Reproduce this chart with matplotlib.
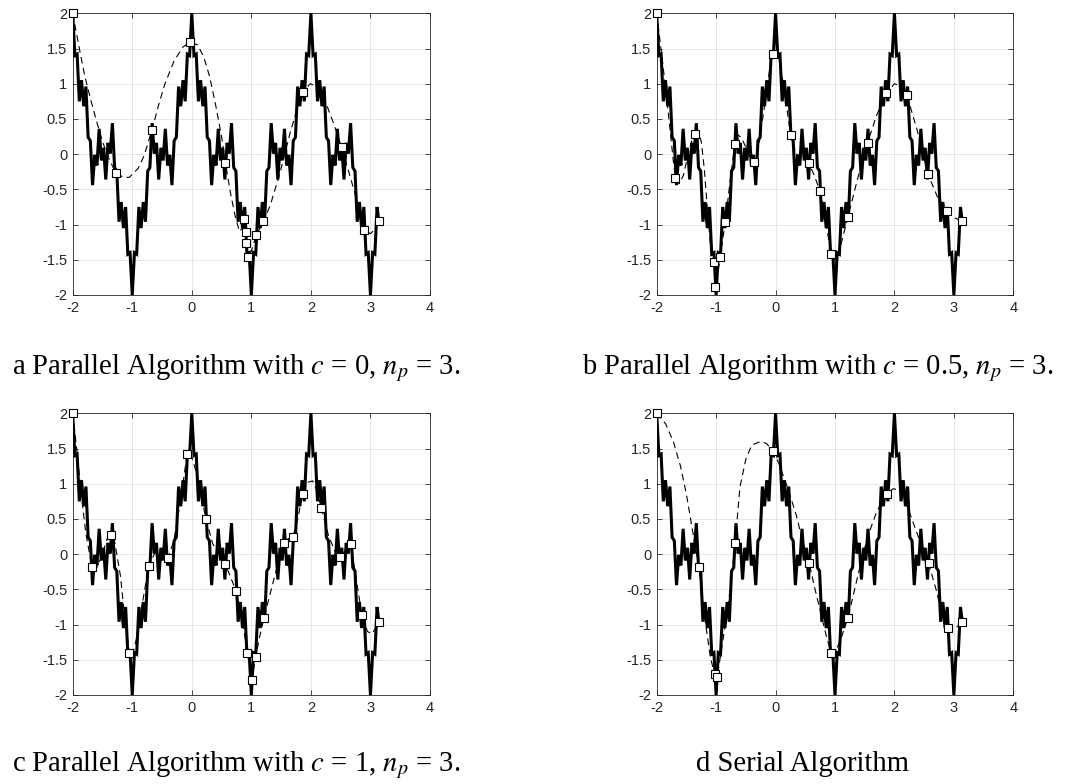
import numpy as np
import matplotlib
matplotlib.use("Agg")
import matplotlib.pyplot as plt

plt.rcParams['mathtext.fontset'] = 'stix'
plt.rcParams['font.family'] = ['Liberation Sans', 'DejaVu Sans']

# ---- fractal reference curve (read on a 1/27 grid over [-2, pi]) ----
curve_y = [
    2.00, 1.40, 1.42, 0.75, 1.05, 0.68, 0.96, 0.24, 0.19, -0.44, -0.01, -0.16, 0.36, -0.09,
    0.09, -0.36, 0.16, 0.01, 0.44, -0.19, -0.24, -0.96, -0.68, -1.05, -0.75, -1.42, -1.40, -2.00,
    -1.40, -1.42, -0.75, -1.05, -0.68, -0.96, -0.24, -0.19, 0.44, 0.01, 0.16, -0.36, 0.09,
    -0.09, 0.36, -0.16, -0.01, -0.44, 0.19, 0.24, 0.96, 0.68, 1.05, 0.75, 1.42, 1.40, 2.00,
    1.40, 1.42, 0.75, 1.05, 0.68, 0.96, 0.24, 0.19, -0.44, -0.01, -0.16, 0.36, -0.09,
    0.09, -0.36, 0.16, 0.01, 0.44, -0.19, -0.24, -0.96, -0.68, -1.05, -0.75, -1.42, -1.40, -2.00,
    -1.40, -1.42, -0.75, -1.05, -0.68, -0.96, -0.24, -0.19, 0.44, 0.01, 0.16, -0.36, 0.09,
    -0.09, 0.36, -0.16, -0.01, -0.44, 0.19, 0.24, 0.96, 0.68, 1.05, 0.75, 1.42, 1.40, 2.00,
    1.40, 1.42, 0.75, 1.05, 0.68, 0.96, 0.24, 0.19, -0.44, -0.01, -0.16, 0.36, -0.09,
    0.09, -0.36, 0.16, 0.01, 0.44, -0.19, -0.24, -0.96, -0.68, -1.05, -0.75, -1.42, -1.40, -2.00,
    -1.40, -1.42, -0.75,
    -0.95,
]
curve_x = np.append(np.linspace(-2.0, 84 / 27, 139), np.pi)

# ---- panel a ----
nodes_a_x = [-2.0, -1.277, -0.667, -0.034, 0.565, 0.884, 0.907, 0.918, 0.951, 1.081, 1.203, 1.859, 2.514, 2.896, 3.137]
nodes_a_y = [2.0, -0.265, 0.349, 1.589, -0.128, -0.918, -1.107, -1.262, -1.466, -1.155, -0.956, 0.879, 0.099, -1.074, -0.956]
dash_a_x = [-2.0, -1.9, -1.8, -1.7, -1.6, -1.5, -1.4, -1.277, -1.15, -1.05, -0.9, -0.8, -0.667, -0.55, -0.45,
            -0.3, -0.15, -0.03, 0.1, 0.2, 0.3, 0.4, 0.5, 0.565, 0.65, 0.72, 0.8, 0.845, 0.884, 0.907, 0.918,
            0.951, 1.0, 1.081, 1.203, 1.32, 1.48, 1.65, 1.76, 1.859, 1.99, 2.1, 2.21, 2.38, 2.514, 2.66,
            2.8, 2.896, 3.0, 3.08, 3.137]
dash_a_y = [2.0, 1.55, 1.12, 0.78, 0.47, 0.18, -0.05, -0.265, -0.33, -0.33, -0.2, -0.02, 0.349, 0.72, 1.0,
            1.32, 1.52, 1.59, 1.55, 1.38, 1.1, 0.7, 0.25, -0.128, -0.55, -0.85, -1.1, -1.05, -0.918, -1.107,
            -1.262, -1.466, -1.38, -1.155, -0.956, -0.72, -0.27, 0.3, 0.62, 0.879, 1.0, 0.96, 0.82, 0.44,
            0.099, -0.32, -0.74, -1.074, -1.13, -1.06, -0.956]

# ---- panel b ----
nodes_b_x = [-2.0, -1.684, -1.358, -1.033, -1.02, -0.932, -0.848, -0.685, -0.365, -0.05, 0.253, 0.56, 0.746,
             0.936, 1.217, 1.549, 1.862, 2.21, 2.559, 2.884, 3.141]
nodes_b_y = [2.0, -0.34, 0.288, -1.53, -1.88, -1.46, -0.97, 0.146, -0.114, 1.423, 0.27, -0.128, -0.52,
             -1.414, -0.894, 0.165, 0.865, 0.837, -0.275, -0.804, -0.956]
dash_b_x = [-2.0, -1.9, -1.8, -1.72, -1.684, -1.62, -1.55, -1.47, -1.4, -1.358, -1.3, -1.25, -1.2, -1.15, -1.1,
            -1.033, -1.02, -0.98, -0.932, -0.848, -0.76, -0.685, -0.63, -0.58, -0.5, -0.43, -0.365, -0.3,
            -0.2, -0.1, -0.05, 0.0, 0.06, 0.15, 0.253, 0.35, 0.45, 0.56, 0.65, 0.746, 0.85, 0.936, 1.0,
            1.08, 1.217, 1.38, 1.549, 1.7, 1.862, 2.0, 2.1, 2.21, 2.38, 2.559, 2.72, 2.884, 3.0, 3.141]
dash_b_y = [2.0, 1.3, 0.55, -0.1, -0.34, -0.42, -0.3, 0.0, 0.22, 0.288, 0.3, 0.18, -0.2, -0.75, -1.25,
            -1.53, -1.88, -1.75, -1.46, -0.97, -0.35, 0.146, 0.27, 0.24, 0.1, -0.05, -0.114, 0.05,
            0.6, 1.2, 1.423, 1.47, 1.35, 0.9, 0.27, 0.0, -0.05, -0.128, -0.3, -0.52, -1.0, -1.414, -1.5,
            -1.35, -0.894, -0.35, 0.165, 0.55, 0.865, 1.0, 0.97, 0.837, 0.35, -0.275, -0.6, -0.804, -0.9, -0.956]

# ---- panel c ----
nodes_c_x = [-2.0, -1.676, -1.356, -1.048, -0.723, -0.398, -0.079, 0.24, 0.56, 0.745, 0.935, 1.008, 1.075,
             1.212, 1.54, 1.697, 1.859, 2.173, 2.492, 2.672, 2.857, 3.137]
nodes_c_y = [2.0, -0.187, 0.271, -1.41, -0.164, -0.06, 1.418, 0.494, -0.136, -0.524, -1.41, -1.78, -1.457,
             -0.907, 0.158, 0.239, 0.858, 0.659, -0.041, 0.143, -0.865, -0.965]
dash_c_x = [-2.0, -1.92, -1.85, -1.78, -1.676, -1.6, -1.5, -1.42, -1.356, -1.3, -1.2, -1.12, -1.048, -1.0,
            -0.93, -0.83, -0.723, -0.6, -0.5, -0.398, -0.3, -0.2, -0.079, -0.02, 0.08, 0.24, 0.35, 0.45,
            0.56, 0.745, 0.85, 0.935, 1.008, 1.075, 1.14, 1.212, 1.38, 1.54, 1.62, 1.697, 1.78, 1.859, 1.95,
            2.03, 2.1, 2.173, 2.3, 2.4, 2.492, 2.58, 2.672, 2.76, 2.857, 2.95, 3.03, 3.137]
dash_c_y = [2.0, 1.4, 0.8, 0.3, -0.187, -0.2, 0.0, 0.22, 0.271, 0.2, -0.3, -0.95, -1.41, -1.45,
            -1.2, -0.7, -0.164, 0.05, 0.05, -0.06, 0.2, 0.7, 1.418, 1.43, 1.15, 0.494, 0.15, 0.0,
            -0.136, -0.524, -0.95, -1.41, -1.78, -1.457, -1.17, -0.907, -0.35, 0.158, 0.22, 0.239, 0.5, 0.858, 1.02,
            1.04, 0.9, 0.659, 0.25, 0.05, -0.041, 0.05, 0.143, -0.35, -0.865, -1.1, -1.13, -0.965]

# ---- panel d ----
nodes_d_x = [-2.0, -1.291, -1.027, -0.983, -0.68, -0.05, 0.566, 0.936, 1.217, 1.869, 2.576, 2.9, 3.136]
nodes_d_y = [2.0, -0.178, -1.703, -1.75, 0.153, 1.464, -0.131, -1.41, -0.908, 0.854, -0.131, -1.05, -0.969]
dash_d_x = [-2.0, -1.85, -1.72, -1.6, -1.5, -1.4, -1.291, -1.2, -1.1, -1.027, -0.983, -0.9, -0.8, -0.68,
            -0.6, -0.5, -0.4, -0.25, -0.15, -0.05, 0.05, 0.2, 0.35, 0.45, 0.566, 0.65, 0.75, 0.85, 0.936,
            1.0, 1.1, 1.217, 1.4, 1.55, 1.7, 1.869, 1.98, 2.1, 2.25, 2.4, 2.576, 2.7, 2.8, 2.9, 3.0, 3.136]
dash_d_y = [2.0, 1.85, 1.6, 1.25, 0.85, 0.35, -0.178, -0.85, -1.45, -1.703, -1.75, -1.3, -0.75, 0.153,
            0.95, 1.35, 1.55, 1.6, 1.57, 1.464, 1.3, 0.95, 0.55, 0.2, -0.131, -0.45, -0.8, -1.15, -1.41,
            -1.4, -1.2, -0.908, -0.25, 0.25, 0.6, 0.854, 0.93, 0.9, 0.6, 0.25, -0.131, -0.5, -0.85, -1.05, -1.07, -0.969]

x_ticks = [-2, -1, 0, 1, 2, 3, 4]
y_ticks = [-2, -1.5, -1, -0.5, 0, 0.5, 1, 1.5, 2]
y_tick_labels = ['-2', '-1.5', '-1', '-0.5', '0', '0.5', '1', '1.5', '2']
x_tick_labels = ['-2', '-1', '0', '1', '2', '3', '4']

captions = [
    r"a Parallel Algorithm with $c$ = 0, $n_p$ = 3.",
    r"b Parallel Algorithm with $c$ = 0.5, $n_p$ = 3.",
    r"c Parallel Algorithm with $c$ = 1, $n_p$ = 3.",
    "d Serial Algorithm",
]

W, H = 1074, 784
fig = plt.figure(figsize=(W / 100, H / 100), dpi=100)

panels = [
    ((72.7, 13.3, 430.0, 295.0), nodes_a_x, nodes_a_y, dash_a_x, dash_a_y, (12, 374)),
    ((656.7, 13.3, 1013.3, 295.0), nodes_b_x, nodes_b_y, dash_b_x, dash_b_y, (582, 374)),
    ((72.7, 413.3, 430.0, 695.0), nodes_c_x, nodes_c_y, dash_c_x, dash_c_y, (12, 771)),
    ((656.7, 413.3, 1013.3, 695.0), nodes_d_x, nodes_d_y, dash_d_x, dash_d_y, (696, 771)),
]

axcol = '#262626'
for (box, nx, ny, dx, dy, cap), caption in zip(panels, captions):
    l, t, r, b = box
    ax = fig.add_axes([l / W, 1 - b / H, (r - l) / W, (b - t) / H])
    ax.plot(curve_x, curve_y, color='black', lw=2.2, solid_joinstyle='miter', zorder=3)
    ax.plot(dx, dy, color='black', lw=0.8, linestyle=(0, (6, 4)), zorder=4)
    ax.plot(nx, ny, linestyle='none', marker='s', ms=5.8, mfc='white', mec='black', mew=0.8, zorder=5,
            clip_on=False)
    ax.set_xlim(-2, 4)
    ax.set_ylim(-2, 2)
    ax.set_xticks(x_ticks)
    ax.set_xticklabels(x_tick_labels)
    ax.set_yticks(y_ticks)
    ax.set_yticklabels(y_tick_labels)
    ax.grid(True, color='#e3e3e3', lw=0.6, zorder=0)
    ax.set_axisbelow(True)
    for s in ax.spines.values():
        s.set_color(axcol)
        s.set_linewidth(0.6)
    ax.tick_params(direction='in', length=3.5, width=0.6, color=axcol, labelcolor=axcol,
                   labelsize=10.5, top=True, right=True, pad=4)
    fig.text(cap[0] / W, 1 - cap[1] / H, caption, ha='left', va='baseline',
             fontsize=20.6, family='Liberation Serif', color='black')

fig.savefig('out.png', dpi=100)
